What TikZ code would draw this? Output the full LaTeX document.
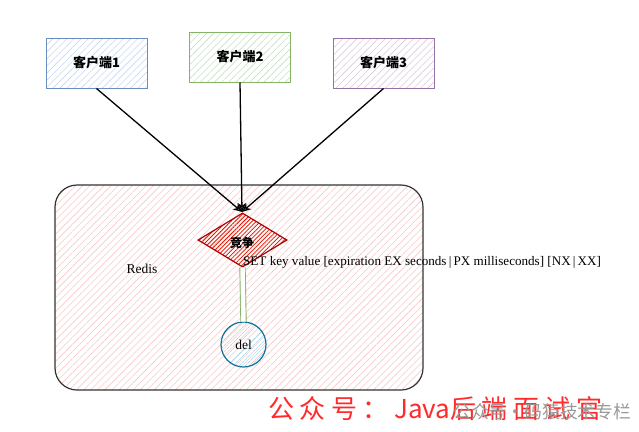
\documentclass[tikz,border=0pt]{standalone}
\usepackage{fontspec}
\setmainfont{Liberation Serif}
\newfontfamily\cjk{Noto Sans CJK SC}
\usetikzlibrary{patterns.meta,arrows.meta,shapes.geometric}
\definecolor{bluedraw}{HTML}{6C8EBF}
\definecolor{bluefill}{HTML}{C6D8F4}
\definecolor{greendraw}{HTML}{82B366}
\definecolor{greenfill}{HTML}{C5E0C2}
\definecolor{purpledraw}{HTML}{9673A6}
\definecolor{purplefill}{HTML}{D9C8E2}
\definecolor{pinkfill}{HTML}{F8C8C8}
\definecolor{reddraw}{HTML}{B20000}
\definecolor{redfill}{HTML}{E51400}
\definecolor{deldraw}{HTML}{10739E}
\definecolor{delfill}{HTML}{B1DDF0}
\definecolor{wmred}{HTML}{FF2A2A}
\newcommand{\wsp}{\hspace{5.5pt}}
\begin{document}
\begin{tikzpicture}[x=1pt,y=-1pt,
  client/.style={draw=#1draw, line width=1pt, minimum width=101pt, minimum height=50pt,
    pattern={Lines[angle=45,distance=5pt,line width=0.6pt]}, pattern color=#1fill,
    font=\cjk\bfseries\fontsize{13}{15}\selectfont},
  conn/.style={line width=1.3pt, -{Stealth[open,length=9pt,width=8pt]}}
  ]
\useasboundingbox (0,0) rectangle (639,431);
% Redis container
\node[draw=black!80, line width=1.2pt, rounded corners=22pt, minimum width=368pt, minimum height=205pt,
  pattern={Lines[angle=45,distance=5pt,line width=0.6pt]}, pattern color=pinkfill,
  inner sep=0pt] (redis) at (239,287.5) {};
\node[font=\fontsize{13.5}{15}\selectfont] (redislbl) at (142,269) {Redis};
% clients
\node[client=blue] (c1) at (96.5,63) {客户端1};
\node[client=green] (c2) at (240,57) {客户端2};
\node[client=purple] (c3) at (383.5,63) {客户端3};
% diamond
\node[diamond, draw=reddraw, line width=1.2pt, minimum width=89pt, minimum height=54pt, inner sep=0pt,
  pattern={Lines[angle=45,distance=3pt,line width=0.8pt]}, pattern color=redfill] (race) at (242.5,240) {};
\node[font=\cjk\bfseries\fontsize{12}{14}\selectfont] (racelbl) at (242,243) {竞争};
% del
\node[circle, draw=deldraw, line width=1.2pt, minimum size=45pt, inner sep=0pt,
  pattern={Lines[angle=45,distance=4pt,line width=0.8pt]}, pattern color=delfill,
  font=\fontsize{13.5}{15}\selectfont] (del) at (243.5,344.5) {del};
% SET text
\node[anchor=west, font=\fontsize{13.1}{15}\selectfont, inner sep=0pt] (set) at (243,262) {SET key value [expiration EX seconds\,|\,PX milliseconds] [NX\,|\,XX]};
% connectors
\coordinate (tip) at (242,212);
\draw[conn] (c1.south) -- (tip);
\draw[conn] (c2.south) -- (tip);
\draw[conn] (c3.south) -- (tip);
\draw[greendraw, line width=0.9pt, double=white, double distance=4.5pt] (del.north) -- (race.south);
% watermark
\node[anchor=west, text=wmred, font=\cjk\fontsize{26}{28}\selectfont, inner sep=0pt] (wm) at (268,409) {公\wsp 众\wsp 号\wsp ：\wsp Java后\wsp 端\wsp 面\wsp 试\wsp 官};
\node[anchor=west, text=black!40, font=\cjk\fontsize{17.8}{19}\selectfont, inner sep=0pt] (wm2) at (453,412) {公众号·码猿技术专栏};
\end{tikzpicture}
\end{document}
